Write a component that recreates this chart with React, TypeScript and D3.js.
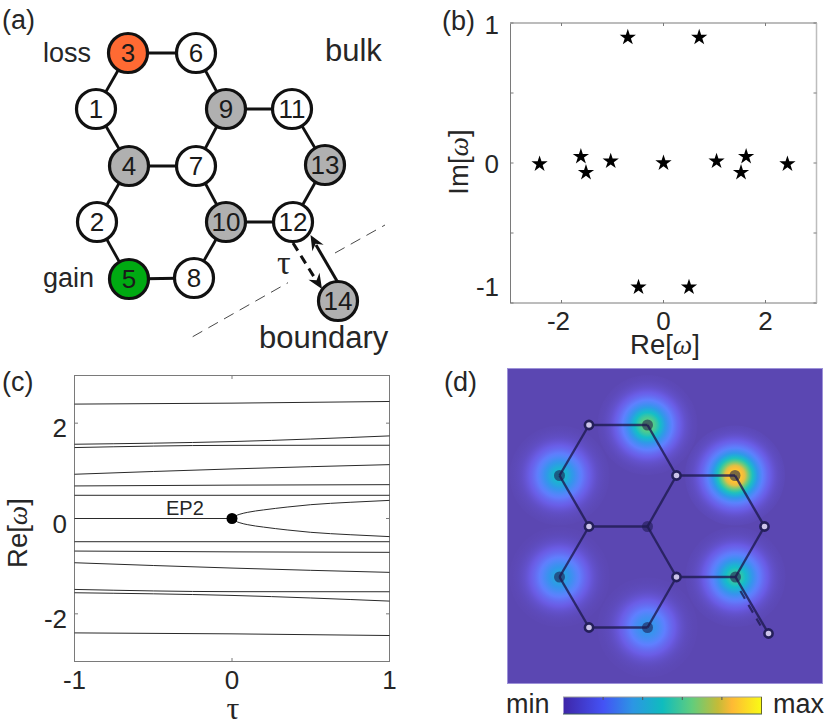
import React from "react";
import * as d3 from "d3";

const FONT = "'Liberation Sans', Arial, sans-serif";
const SERIF = "'Liberation Serif', serif";
const INK = "#262626";
const AXIS = "#7a7a7a";

// Panel (a)
const aIds = [1, 2, 3, 4, 5, 6, 7, 8, 9, 10, 11, 12, 13, 14];
const aX = [96, 97, 128, 129, 129, 196, 196, 194, 226, 226, 292, 293, 325, 338];
const aY = [109, 222, 53, 166, 279, 53, 166, 278, 109, 222, 109, 222, 165, 301];
const aFill: Record<number, string> = { 3: "#ff6a33", 5: "#00aa12", 4: "#b0b0b0", 9: "#b0b0b0", 10: "#b0b0b0", 13: "#b0b0b0", 14: "#b0b0b0" };
const aEdges = [[3, 6], [3, 1], [6, 9], [1, 4], [9, 7], [9, 11], [7, 4], [7, 10], [4, 2], [2, 5], [5, 8], [8, 10], [10, 12], [12, 13], [13, 11]];

// Panel (b)
const starRe = [-2.43, -1.62, -1.52, -1.035, -0.7, 0.7, -0.49, 0.5, 0, 1.04, 1.62, 1.52, 2.43];
const starIm = [-0.007, 0.046, -0.068, 0.013, 0.897, 0.897, -0.887, -0.887, 0, 0.013, 0.046, -0.068, -0.007];
const bXTicks = [-2, 0, 2];
const bYTicks = [-1, -0.5, 0, 0.5, 1];

// Panel (c)
const tauEnds = [-1, 0, 1];
const bands = [
  [2.4, 2.42, 2.455],
  [1.558, 1.614, 1.733],
  [1.488, 1.535, 1.537],
  [0.928, 1.04, 1.13],
  [0.683, 0.7, 0.71],
  [0.487, 0.487, 0.487],
  [-0.487, -0.487, -0.487],
  [-0.683, -0.7, -0.71],
  [-0.928, -1.04, -1.13],
  [-1.488, -1.535, -1.537],
  [-1.558, -1.614, -1.733],
  [-2.4, -2.42, -2.455],
];
const epTau = [0, 0.02, 0.05, 0.1, 0.2, 0.35, 0.5, 0.75, 1];
const epBranch = [0, 0.05, 0.09, 0.13, 0.18, 0.24, 0.29, 0.34, 0.38];

// Panel (d): plot-local positions
const dX = [81.5, 140, 52, 169, 227.5, 81.5, 140, 257, 52, 169, 228, 81.5, 140, 261];
const dY = [56.5, 56.5, 107, 107, 107, 158, 158, 158, 208.5, 208.5, 208.5, 259, 259, 265];
const dSpot = [0, 0.68, 0.5, 0, 0.95, 0, 0, 0, 0.42, 0, 0.6, 0, 0.36, 0];
const dDark = [false, true, true, false, true, false, true, false, true, false, true, false, true, false];
const dEdges = [[0, 1], [1, 3], [3, 4], [4, 7], [7, 10], [10, 9], [9, 12], [12, 11], [11, 8], [8, 5], [5, 2], [2, 0], [5, 6], [6, 3], [6, 9], [10, 13]];

const heatDomain = [0, 0.08, 0.2, 0.35, 0.5, 0.65, 0.8, 0.87, 1];
const heatColors = ["#5b47b2", "#6a5ce6", "#5f80ff", "#3296eb", "#14bec8", "#5ccd82", "#f0be3c", "#ffbe37", "#faf51e"];
const cbarStops = [0, 0.2, 0.35, 0.5, 0.65, 0.78, 0.85, 1];
const cbarColors = ["#3e26a8", "#4452f5", "#2c96e4", "#0fbcbe", "#62cd7c", "#c4bb38", "#feb935", "#f9fb15"];
const cbarTicks = [0.2, 0.4, 0.6, 0.8];

const heat = d3.scaleLinear<string>().domain(heatDomain).range(heatColors).interpolate(d3.interpolateRgb);
const SIGMA = 16;

function Label(p: { x: number; y: number; t: string; size?: number; anchor?: string; fam?: string; fill?: string }) {
  return (
    <text x={p.x} y={p.y} fontSize={p.size ?? 26} textAnchor={p.anchor ?? "start"} fontFamily={p.fam ?? FONT} fill={p.fill ?? INK}>
      {p.t}
    </text>
  );
}

function Omega(p: { x: number; y: number; pre: string; rotate?: boolean; size?: number }) {
  const tf = p.rotate ? `rotate(-90 ${p.x} ${p.y})` : undefined;
  return (
    <text x={p.x} y={p.y} transform={tf} fontSize={p.size ?? 27.5} textAnchor="middle" fontFamily={FONT} fill={INK}>
      {p.pre + "["}<tspan fontFamily={SERIF} fontStyle="italic">ω</tspan>{"]"}
    </text>
  );
}

function arrowHead(x1: number, y1: number, x2: number, y2: number, len = 15, w = 6.5) {
  const a = Math.atan2(y2 - y1, x2 - x1);
  const c = Math.cos(a), s = Math.sin(a);
  const bx = x2 - len * c, by = y2 - len * s;
  const nx = x2 - len * 0.68 * c, ny = y2 - len * 0.68 * s;
  return `M${x2},${y2}L${bx - w * s},${by + w * c}L${nx},${ny}L${bx + w * s},${by - w * c}Z`;
}

function PanelA() {
  const i = (id: number) => aIds.indexOf(id);
  return (
    <g>
      {aEdges.map(([a, b], k) => (
        <line key={k} x1={aX[i(a)]} y1={aY[i(a)]} x2={aX[i(b)]} y2={aY[i(b)]} stroke="#111" strokeWidth={2.8} />
      ))}
      <line x1={192.7} y1={336.7} x2={288} y2={282.7} stroke="#333" strokeWidth={0.9} strokeDasharray="11 7" />
      <line x1={335} y1={253} x2={385} y2={225} stroke="#333" strokeWidth={0.9} strokeDasharray="11 7" />
      {aIds.map((id, k) => (
        <g key={id}>
          <circle cx={aX[k]} cy={aY[k]} r={19.5} fill={aFill[id] ?? "#fff"} stroke="#111" strokeWidth={3.2} />
          <Label x={aX[k]} y={aY[k] + 9} t={String(id)} anchor="middle" fill="#1a1a1a" />
        </g>
      ))}
      <line x1={337} y1={281} x2={316} y2={245} stroke="#111" strokeWidth={3} />
      <path d={arrowHead(337, 281, 310.5, 235)} fill="#111" />
      <line x1={293} y1={243} x2={316} y2={280} stroke="#111" strokeWidth={3} strokeDasharray="9 6" />
      <path d={arrowHead(293, 243, 322, 289)} fill="#111" />
      <Label x={277} y={274} t="τ" size={34} fam={SERIF} />
      <Label x={2} y={29} t="(a)" size={27} />
      <Label x={43} y={62} t="loss" size={27} />
      <Label x={325} y={61} t="bulk" size={31} />
      <Label x={43} y={287} t="gain" size={27} />
      <Label x={259} y={348} t="boundary" size={31} />
    </g>
  );
}

function PanelB() {
  const x = d3.scaleLinear().domain([-3, 3]).range([510.5, 816.5]);
  const y = d3.scaleLinear().domain([-1, 1]).range([303, 23]);
  const star = d3.symbol().type(d3.symbolStar).size(82)()!;
  return (
    <g>
      <rect x={510.5} y={23} width={306} height={280} fill="#fff" stroke={AXIS} strokeWidth={1} />
      <line x1={510} y1={23} x2={817} y2={23} stroke="#bdbdbd" strokeWidth={1.5} />
      <line x1={816.5} y1={23} x2={816.5} y2={303} stroke="#bdbdbd" strokeWidth={1.5} />
      {bXTicks.map((t) => (
        <g key={t}>
          <line x1={x(t)} x2={x(t)} y1={303} y2={300} stroke={AXIS} />
          <line x1={x(t)} x2={x(t)} y1={23} y2={26} stroke={AXIS} />
          <Label x={x(t) - (t === -2 ? 3 : 0)} y={330} t={String(t)} anchor="middle" />
        </g>
      ))}
      {bYTicks.map((t) => (
        <g key={t}>
          <line x1={510.5} x2={513.5} y1={y(t)} y2={y(t)} stroke={AXIS} />
          <line x1={816.5} x2={813.5} y1={y(t)} y2={y(t)} stroke={AXIS} />
        </g>
      ))}
      <Label x={499} y={34} t="1" anchor="end" />
      <Label x={499} y={173} t="0" anchor="end" />
      <Label x={499} y={296} t="-1" anchor="end" />
      {starRe.map((v, k) => (
        <path key={k} d={star} transform={`translate(${x(v)},${y(starIm[k])})`} fill="#000" />
      ))}
      <Label x={442} y={30} t="(b)" size={27} />
      <Omega x={665} y={354} pre="Re" />
      <Omega x={468} y={162} pre="Im" rotate />
    </g>
  );
}

function PanelC() {
  const x = d3.scaleLinear().domain([-1, 1]).range([74.5, 389.5]);
  const y = d3.scaleLinear().domain([-3, 3]).range([661.5, 375.5]);
  const line = d3.line<[number, number]>().x((d) => x(d[0])).y((d) => y(d[1])).curve(d3.curveMonotoneX);
  const upper: [number, number][] = epTau.map((t, k) => [t, epBranch[k]]);
  const lower: [number, number][] = epTau.map((t, k) => [t, -epBranch[k]]);
  return (
    <g>
      <rect x={74.5} y={375.5} width={315} height={286} fill="#fff" stroke={AXIS} strokeWidth={1} />
      {[-2, 0, 2].map((t) => (
        <g key={t}>
          <line x1={74.5} x2={78} y1={y(t)} y2={y(t)} stroke={AXIS} />
          <line x1={389.5} x2={386} y1={y(t)} y2={y(t)} stroke={AXIS} />
          <Label x={67} y={y(t) + 14} t={String(t)} anchor="end" />
        </g>
      ))}
      <line x1={x(0)} x2={x(0)} y1={661.5} y2={658} stroke={AXIS} />
      <line x1={x(0)} x2={x(0)} y1={375.5} y2={379} stroke={AXIS} />
      {[-1, 0, 1].map((t) => (
        <Label key={t} x={x(t)} y={689} t={String(t)} anchor="middle" />
      ))}
      {bands.map((b, k) => (
        <path key={k} d={line(tauEnds.map((t, j) => [t, b[j]] as [number, number]))!} fill="none" stroke="#2a2a2a" strokeWidth={1} />
      ))}
      <line x1={x(-1)} x2={x(0)} y1={y(0)} y2={y(0)} stroke="#2a2a2a" strokeWidth={1} />
      <path d={line(upper)!} fill="none" stroke="#2a2a2a" strokeWidth={1} />
      <path d={line(lower)!} fill="none" stroke="#2a2a2a" strokeWidth={1} />
      <circle cx={x(0)} cy={y(0)} r={5.5} fill="#000" />
      <Label x={166} y={515} t="EP2" size={20} />
      <Label x={2} y={391} t="(c)" size={27} />
      <Omega x={27} y={533} pre="Re" rotate />
      <Label x={233} y={719} t="τ" size={32} anchor="middle" fam={SERIF} />
    </g>
  );
}

function PanelD() {
  const ox = 507.5, oy = 368.5, S = 315;
  const x = d3.scaleLinear().domain([0, S]).range([ox, ox + S]);
  const y = d3.scaleLinear().domain([0, S]).range([oy, oy + S]);
  const cbar = d3.scaleLinear().domain([0, 1]).range([563.5, 761.5]);
  const radii = d3.range(0, 1.0001, 0.05);
  const R = 50;
  return (
    <g>
      <defs>
        {dSpot.map((a, k) =>
          a > 0 ? (
            <radialGradient key={k} id={`spot${k}`}>
              {radii.map((t) => (
                <stop key={t} offset={t} stopColor={heat(a * Math.exp(-((t * R) ** 2) / (2 * SIGMA * SIGMA)))} />
              ))}
            </radialGradient>
          ) : null,
        )}
        <linearGradient id="cbar">
          {cbarStops.map((s, k) => (
            <stop key={s} offset={s} stopColor={cbarColors[k]} />
          ))}
        </linearGradient>
      </defs>
      <rect x={ox} y={oy} width={S} height={S} fill={heat(0)} stroke="#9d92d8" strokeWidth={1} />
      {dSpot.map((a, k) =>
        a > 0 ? <circle key={k} cx={x(dX[k])} cy={y(dY[k])} r={R} fill={`url(#spot${k})`} /> : null,
      )}
      {dEdges.map(([a, b], k) => (
        <line key={k} x1={x(dX[a])} y1={y(dY[a])} x2={x(dX[b])} y2={y(dY[b])} stroke="#1e1a50" strokeOpacity={0.8} strokeWidth={2.4} />
      ))}
      <line x1={x(dX[10]) + 4.9} y1={y(dY[10]) + 14} x2={x(dX[13]) - 8} y2={y(dY[13]) - 8} stroke="#1e1a50" strokeOpacity={0.8} strokeWidth={2.2} strokeDasharray="9 7" />
      {dX.map((v, k) =>
        dDark[k] ? (
          <circle key={k} cx={x(v)} cy={y(dY[k])} r={5.5} fill="#1e1a50" fillOpacity={0.58} />
        ) : (
          <circle key={k} cx={x(v)} cy={y(dY[k])} r={4.1} fill="#cbc3e8" stroke="#241f5a" strokeWidth={2.6} />
        ),
      )}
      <rect x={563.5} y={697} width={198} height={17} fill="url(#cbar)" />
      <line x1={563} x2={762} y1={697} y2={697} stroke="#9a9a9a" strokeWidth={1} />
      <line x1={563} x2={762} y1={714} y2={714} stroke="#3c5a5a" strokeWidth={1} />
      <line x1={761.5} x2={761.5} y1={697} y2={714} stroke="#6a6a20" strokeWidth={1} />
      {cbarTicks.map((t) => (
        <line key={t} x1={cbar(t)} x2={cbar(t)} y1={697} y2={700} stroke="#555" />
      ))}
      <Label x={506} y={713} t="min" size={27} />
      <Label x={773} y={713} t="max" size={27} />
      <Label x={444} y={391} t="(d)" size={27} />
    </g>
  );
}

export default function App() {
  return (
    <svg width={830} height={726} viewBox="0 0 830 726" style={{ position: "absolute", left: 0, top: 0, display: "block", background: "#fff" }}>
      <PanelA />
      <PanelB />
      <PanelC />
      <PanelD />
    </svg>
  );
}
